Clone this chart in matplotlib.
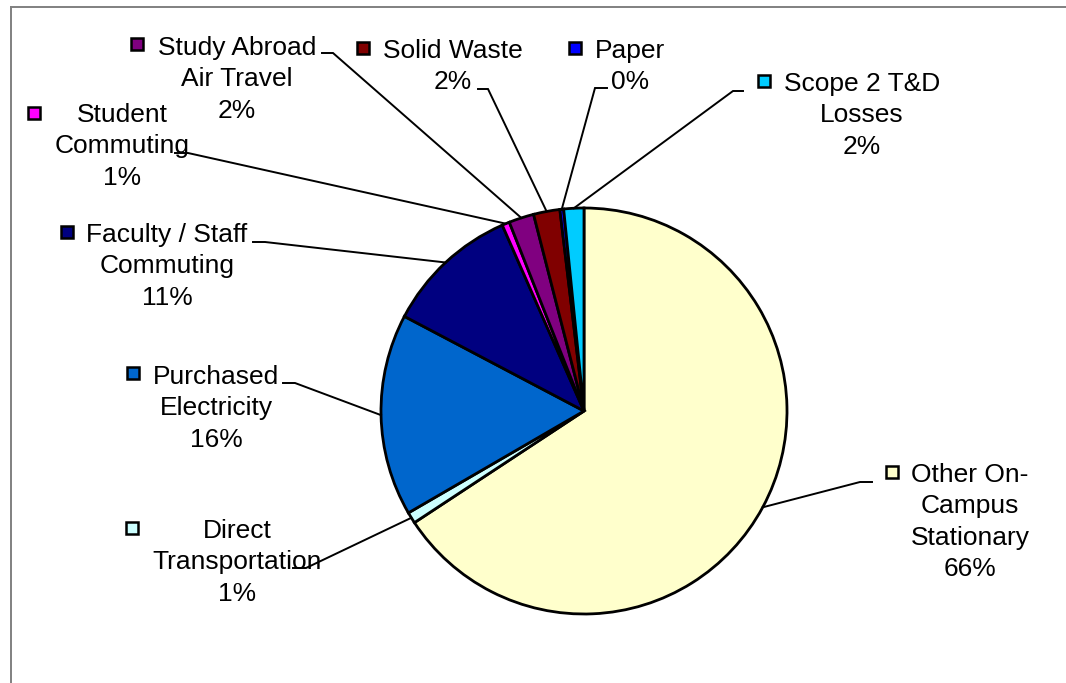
import numpy as np
import matplotlib
matplotlib.use("Agg")
import matplotlib.pyplot as plt

plt.rcParams['font.family'] = ['Liberation Sans', 'DejaVu Sans']

# emission sources, in the order they run clockwise from 12 o'clock
categories = ["Other On-\nCampus\nStationary", "Direct\nTransportation",
              "Purchased\nElectricity", "Faculty / Staff\nCommuting",
              "Student\nCommuting", "Study Abroad\nAir Travel",
              "Solid Waste", "Paper", "Scope 2 T&D\nLosses"]
shares = [65.8, 0.9, 16.1, 10.7, 0.6, 2.0, 2.1, 0.3, 1.6]
colors = ["#FFFFCC", "#CCFFFF", "#0066CC", "#000080", "#FF00FF",
          "#800080", "#800000", "#0000FF", "#00CCFF"]

# label layout in pixels (y down): text centre x, first line centre y
text_pos = [(970, 473), (237, 529), (216, 375), (167, 233), (122, 113),
            (237, 46), (453, 49), (630, 49), (862, 82)]
key_pos = [(892, 472), (132, 528), (133, 373), (67, 232), (34, 113),
           (137, 44), (363, 48), (575, 48), (764, 81)]
# leader: point next to the label, then the elbow before the run to the pie
leader = [((872, 482), (860, 482)), ((293, 568), (306, 568)),
          ((283, 383), (295, 383)), ((253, 242), (265, 242)),
          ((175, 153), (188, 153)), ((322, 53), (333, 53)),
          ((478, 89), (488, 89)), ((607, 88), (595, 88)),
          ((743, 91), (733, 91))]

W, H = 1066, 683
fig = plt.figure(figsize=(W / 100, H / 100), dpi=100)
ax = fig.add_axes([0, 0, 1, 1])

center = (584, 411)
radius = 203
# y axis is flipped below, so counterclock in data reads clockwise on screen
wedges, _ = ax.pie(shares, colors=colors, startangle=-90, counterclock=True,
                   center=center, radius=radius,
                   wedgeprops=dict(edgecolor='black', linewidth=2.0))

ax.set_xlim(0, W)
ax.set_ylim(H, 0)
ax.axis('off')

# outer frame (only top and left edges are visible)
ax.plot([11, W + 5], [7, 7], color='#808080', lw=1.4, clip_on=False)
ax.plot([11, 11], [7, H + 5], color='#808080', lw=1.4, clip_on=False)

total = sum(shares)
line_step = 31.3
fs = 19
for i, w in enumerate(wedges):
    pct = "%d%%" % round(100 * shares[i] / total)
    lines = categories[i].split("\n") + [pct]
    tx, ty = text_pos[i]
    for k, ln in enumerate(lines):
        ax.text(tx, ty + k * line_step + 9, ln, ha='center', va='baseline',
                fontsize=fs, color='black')
    kx, ky = key_pos[i]
    ax.plot(kx, ky, marker='s', markersize=9, markerfacecolor=colors[i],
            markeredgecolor='black', markeredgewidth=1.8)

    mid = np.deg2rad((w.theta1 + w.theta2) / 2)
    px = center[0] + radius * np.cos(mid)
    py = center[1] + radius * np.sin(mid)
    (lx, ly), (ex, ey) = leader[i]
    ax.plot([lx, ex, px], [ly, ey, py], color='black', lw=1.4,
            solid_joinstyle='miter')

fig.savefig("out.png", dpi=100)
